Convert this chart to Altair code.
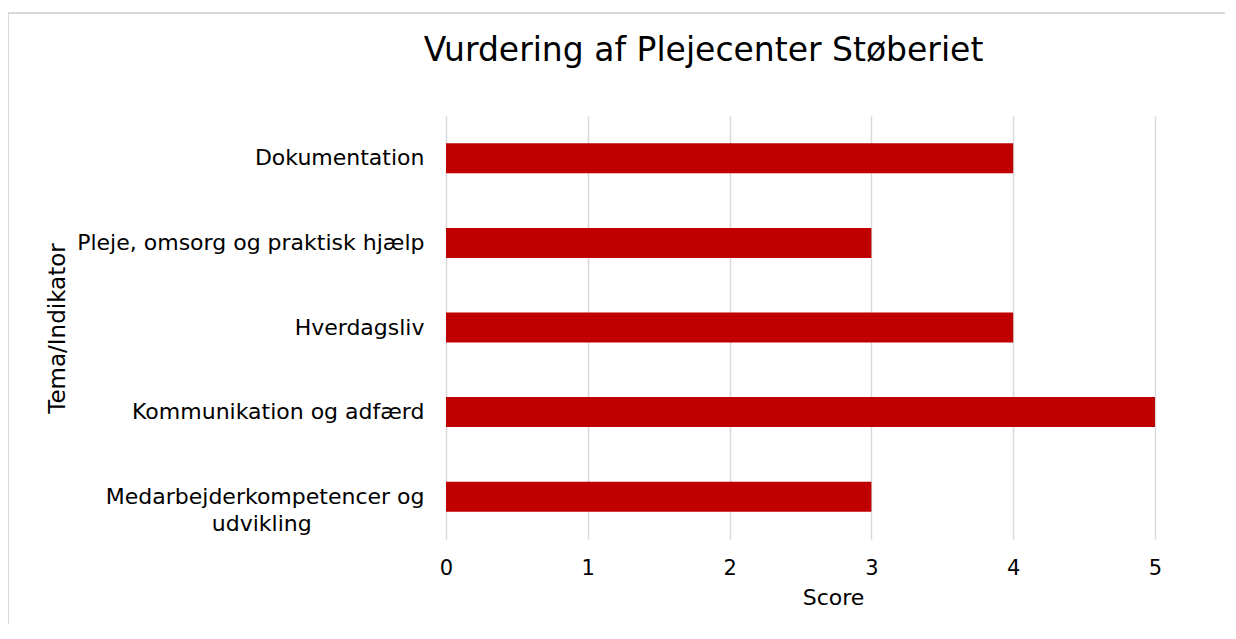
import altair as alt
import pandas as pd

categories = [
    "Dokumentation",
    "Pleje, omsorg og praktisk hjælp",
    "Hverdagsliv",
    "Kommunikation og adfærd",
    "Medarbejderkompetencer og udvikling",
]
scores = [4, 3, 4, 5, 3]
x_ticks = [0, 1, 2, 3, 4, 5]

df = pd.DataFrame({"Tema": categories, "Score": scores})

FONT = "DejaVu Sans"
GRID = "#D9D9D9"
PAD = "\u2800" * 7

bars = alt.Chart(df).mark_bar(color="#C00000", size=30).encode(
    x=alt.X(
        "Score:Q",
        scale=alt.Scale(domain=[0, 5], nice=False, zero=True),
        axis=alt.Axis(
            values=x_ticks,
            format="d",
            title="Score",
            domain=False,
            ticks=False,
            grid=True,
            gridColor=GRID,
            gridWidth=1.5,
            labelFlush=False,
            labelFont=FONT,
            labelFontSize=21,
            labelColor="#000000",
            labelPadding=18,
            titleFont=FONT,
            titleFontSize=22,
            titleFontWeight="normal",
            titleColor="#000000",
            titleX=387,
            titleY=58,
            titleAlign="center",
            titleBaseline="middle",
        ),
    ),
    y=alt.Y(
        "Tema:N",
        sort=categories,
        scale=alt.Scale(paddingInner=0.645, paddingOuter=0.3225),
        axis=alt.Axis(
            title="Tema/Indikator",
            domain=False,
            ticks=False,
            grid=False,
            labelFont=FONT,
            labelFontSize=22,
            labelColor="#000000",
            labelPadding=22,
            labelLimit=500,
            labelLineHeight=27,
            labelExpr="datum.label == 'Medarbejderkompetencer og udvikling' ? ['Medarbejderkompetencer og', 'udvikling" + PAD + "'] : datum.label",
            titleFont=FONT,
            titleFontSize=23,
            titleFontWeight="normal",
            titleColor="#000000",
            titleX=-389,
            titleY=212,
            titleAngle=-90,
            titleAlign="center",
            titleBaseline="middle",
        ),
    ),
)

frame_top = alt.Chart(df).mark_rule(color=GRID, strokeWidth=2).encode(
    x=alt.value(-438), x2=alt.value(800), y=alt.value(-103)
)
frame_left = alt.Chart(df).mark_rule(color=GRID, strokeWidth=2).encode(
    x=alt.value(-438), y=alt.value(-103), y2=alt.value(520)
)

chart = (
    alt.layer(frame_top, frame_left, bars)
    .properties(
        width=709,
        height=423,
        autosize=alt.AutoSizeParams(type="none"),
        padding={"left": 438, "top": 108, "right": 70, "bottom": 85},
        title=alt.TitleParams(
            "Vurdering af Plejecenter Støberiet",
            font=FONT,
            fontSize=33,
            fontWeight="normal",
            color="#000000",
            anchor="middle",
            frame="group",
            dx=-97,
            dy=82,
            baseline="alphabetic",
            offset=0,
        ),
    )
    .configure(background="white")
    .configure_view(strokeWidth=0)
)

chart.save("out.html", embed_options={"renderer": "svg", "actions": False})
